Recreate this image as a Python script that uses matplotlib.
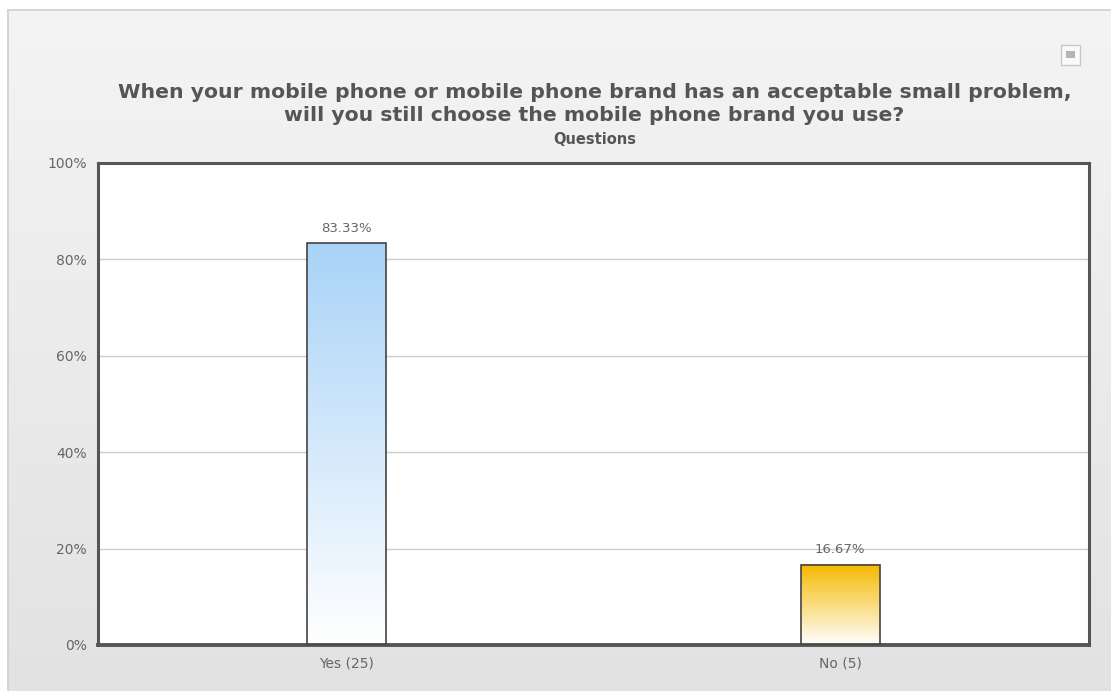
import numpy as np
import matplotlib.pyplot as plt
from matplotlib.patches import Rectangle
from matplotlib.colors import LinearSegmentedColormap
from matplotlib.ticker import FuncFormatter

categories = ["Yes (25)", "No (5)"]
percentages = [83.33, 16.67]
bar_colors = ["#a9d3f7", "#f5b900"]
title = ("When your mobile phone or mobile phone brand has an acceptable small problem,\n"
         "will you still choose the mobile phone brand you use?")
subtitle = "Questions"
yticks = [0, 20, 40, 60, 80, 100]

W, H = 1111, 691
fig = plt.figure(figsize=(W / 100, H / 100), dpi=100)
fig.patch.set_facecolor("white")

# panel background with a soft vertical gradient
bg = fig.add_axes([8 / W, 0, 1 - 8 / W, 1 - 10 / H], zorder=-10)
grad = np.linspace(0, 1, 256).reshape(-1, 1)
bg_cmap = LinearSegmentedColormap.from_list("bg", ["#f4f4f4", "#e2e2e2"])
bg.imshow(grad, aspect="auto", cmap=bg_cmap, extent=[0, 1, 0, 1], origin="upper")
bg.set_xlim(0, 1)
bg.set_ylim(0, 1)
bg.axis("off")
fig.add_artist(plt.Line2D([8 / W, 8 / W], [0, 1 - 10 / H], color="#cfcfcf", lw=1.2))
fig.add_artist(plt.Line2D([8 / W, 1], [1 - 10 / H, 1 - 10 / H], color="#cfcfcf", lw=1.2))

# menu icon in the corner
fig.add_artist(Rectangle((1061 / W, 1 - 65 / H), 19 / W, 20 / H, transform=fig.transFigure,
                         facecolor="#fafafa", edgecolor="#c8c8c8", lw=1))
fig.add_artist(Rectangle((1066 / W, 1 - 58 / H), 9 / W, 7 / H, transform=fig.transFigure,
                         facecolor="#b5b5b5", edgecolor="none"))

left, right, top, bottom = 98, 1089, 163, 645
ax = fig.add_axes([left / W, 1 - bottom / H, (right - left) / W, (bottom - top) / H])
ax.set_facecolor("white")
x = np.arange(len(categories))
width = 0.16
xlim = (-0.504, len(categories) - 0.496)

for xi, val, col in zip(x, percentages, bar_colors):
    cmap = LinearSegmentedColormap.from_list("b", [col, "white"])
    ax.imshow(grad, aspect="auto", cmap=cmap, origin="upper",
              extent=[xi - width / 2, xi + width / 2, 0, val], zorder=2)
    ax.bar(xi, val, width=width, facecolor="none", edgecolor="#444444", lw=1.2, zorder=3)
    ax.text(xi, val + 1.8, f"{val:.2f}%", ha="center", va="bottom",
            fontsize=9.5, color="#666666", zorder=4)

ax.set_xlim(*xlim)
ax.set_ylim(0, 100)
ax.set_yticks(yticks)
ax.yaxis.set_major_formatter(FuncFormatter(lambda v, p: f"{v:.0f}%"))
ax.set_xticks(x)
ax.set_xticklabels(categories)
ax.tick_params(axis="both", length=0, labelsize=10, labelcolor="#666666")
ax.tick_params(axis="y", pad=8)
ax.tick_params(axis="x", pad=8)
ax.grid(axis="y", color="#cccccc", lw=1, zorder=1)
ax.set_axisbelow(True)
for side, spine in ax.spines.items():
    spine.set_color("#555555")
    spine.set_linewidth(2.2)
ax.spines["bottom"].set_linewidth(2.8)

cx = 0.5 * (119 + 1070) / W
fig.text(cx, 1 - 104 / H, title, ha="center", va="center",
         fontsize=14.7, fontweight="bold", color="#555555", linespacing=1.22)
fig.text(cx, 1 - 140 / H, subtitle, ha="center", va="center",
         fontsize=10.5, fontweight="bold", color="#555555")

fig.savefig("out.png", dpi=100)
